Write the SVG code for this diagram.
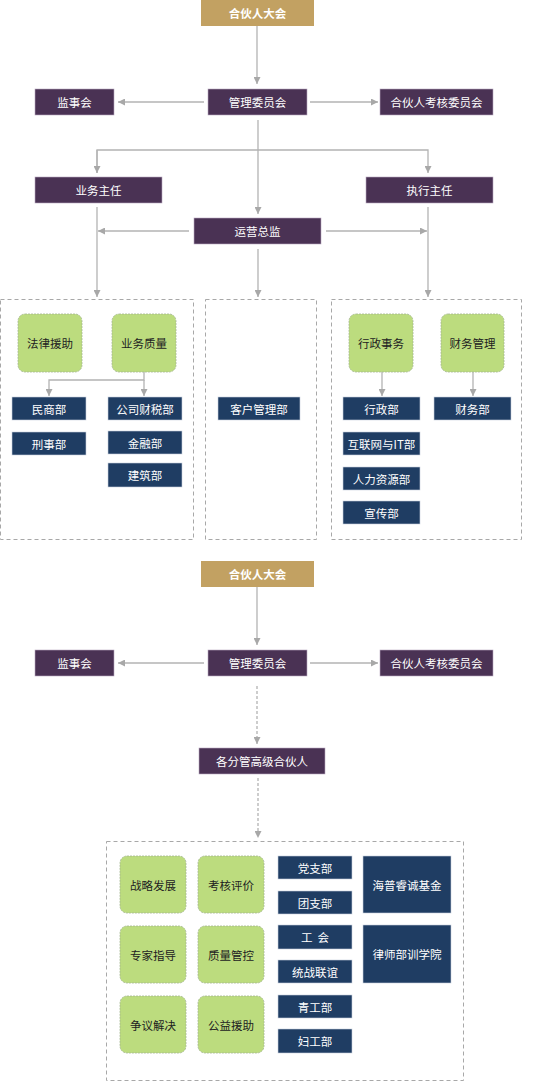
<svg xmlns="http://www.w3.org/2000/svg" width="536" height="1091" viewBox="0 0 536 1091">
<style>
text{font-family:"Noto Sans CJK SC","Microsoft YaHei",sans-serif;font-size:11.5px;text-anchor:middle;dominant-baseline:central}
.gold{fill:#c2a162}
.pur{fill:#4a3254;stroke:#b9a9c0;stroke-width:0.6}
.navy{fill:#1f3d63;stroke:#c8d0dc;stroke-width:0.6}
.grn{fill:#bcdc7e;stroke:#a3b590;stroke-width:0.8;stroke-dasharray:2 1}
.w{fill:#fff}
.b{fill:#222}
.gt{fill:#fff;font-weight:bold}
.dash{fill:none;stroke:#a8a8a8;stroke-width:1;stroke-dasharray:4 3}
.ln{fill:none;stroke:#b3b3b3;stroke-width:1.3}
.dl{fill:none;stroke:#b3b3b3;stroke-width:1.3;stroke-dasharray:3 2}
</style>
<defs>
<marker id="ah" viewBox="0 0 10 10" refX="10" refY="5" markerWidth="7" markerHeight="7" markerUnits="userSpaceOnUse" orient="auto">
<path d="M0,0 L10,5 L0,10 z" fill="#a8a8a8"/>
</marker>
</defs>
<g id="containers">
<rect class="dash" x="0.5" y="299.5" width="193" height="240"/>
<rect class="dash" x="205.5" y="299.5" width="111" height="240"/>
<rect class="dash" x="331.5" y="299.5" width="190" height="240"/>
<rect class="dash" x="106.5" y="841.5" width="357" height="239"/>
</g>
<g id="connectors">
<line class="ln" x1="257" y1="26" x2="257" y2="84" marker-end="url(#ah)"/>
<line class="ln" x1="204" y1="102" x2="118" y2="102" marker-end="url(#ah)"/>
<line class="ln" x1="310" y1="102" x2="378" y2="102" marker-end="url(#ah)"/>
<line class="ln" x1="258" y1="120" x2="258" y2="214" marker-end="url(#ah)"/>
<polyline class="ln" points="97,173 97,150 428,150 428,173" marker-end="url(#ah)"/>
<line class="ln" x1="97" y1="150" x2="97" y2="173" marker-end="url(#ah)"/>
<line class="ln" x1="189" y1="231" x2="98" y2="231" marker-end="url(#ah)"/>
<line class="ln" x1="326" y1="231" x2="427" y2="231" marker-end="url(#ah)"/>
<line class="ln" x1="97" y1="207" x2="97" y2="297" marker-end="url(#ah)"/>
<line class="ln" x1="258" y1="249" x2="258" y2="297" marker-end="url(#ah)"/>
<line class="ln" x1="428" y1="207" x2="428" y2="297" marker-end="url(#ah)"/>
<polyline class="ln" points="144,372 144,380 49,380 49,396" marker-end="url(#ah)"/>
<line class="ln" x1="144" y1="380" x2="144" y2="396" marker-end="url(#ah)"/>
<line class="ln" x1="382" y1="372" x2="382" y2="396" marker-end="url(#ah)"/>
<line class="ln" x1="473" y1="372" x2="473" y2="396" marker-end="url(#ah)"/>
<line class="ln" x1="257" y1="587" x2="257" y2="645" marker-end="url(#ah)"/>
<line class="ln" x1="204" y1="663" x2="118" y2="663" marker-end="url(#ah)"/>
<line class="ln" x1="310" y1="663" x2="378" y2="663" marker-end="url(#ah)"/>
<line class="dl" x1="257" y1="686" x2="257" y2="744" marker-end="url(#ah)"/>
<line class="dl" x1="258" y1="778" x2="258" y2="838" marker-end="url(#ah)"/>
</g>
<g id="n1"><rect class="gold" x="201" y="0" width="113" height="26"/><text class="gt" x="257.5" y="13">合伙人大会</text></g>
<g id="n2"><rect class="pur" x="208" y="89" width="99" height="26"/><text class="w" x="257.5" y="102">管理委员会</text></g>
<g id="n3"><rect class="pur" x="35" y="89" width="79" height="26"/><text class="w" x="74.5" y="102">监事会</text></g>
<g id="n4"><rect class="pur" x="380" y="89" width="113" height="26"/><text class="w" x="436.5" y="102">合伙人考核委员会</text></g>
<g id="n5"><rect class="pur" x="35" y="177" width="127" height="26"/><text class="w" x="98.5" y="190">业务主任</text></g>
<g id="n6"><rect class="pur" x="366" y="177" width="127" height="26"/><text class="w" x="429.5" y="190">执行主任</text></g>
<g id="n7"><rect class="pur" x="194" y="218" width="127" height="26"/><text class="w" x="257.5" y="231">运营总监</text></g>
<g id="n8"><rect class="grn" x="18" y="314" width="64" height="58" rx="7"/><text class="b" x="50" y="343">法律援助</text></g>
<g id="n9"><rect class="grn" x="112" y="314" width="64" height="58" rx="7"/><text class="b" x="144" y="343">业务质量</text></g>
<g id="n10"><rect class="grn" x="349" y="314" width="64" height="58" rx="7"/><text class="b" x="381" y="343">行政事务</text></g>
<g id="n11"><rect class="grn" x="441" y="314" width="63" height="58" rx="7"/><text class="b" x="472.5" y="343">财务管理</text></g>
<g id="n12"><rect class="navy" x="12" y="397" width="74" height="23"/><text class="w" x="49" y="408.5">民商部</text></g>
<g id="n13"><rect class="navy" x="12" y="432" width="74" height="23"/><text class="w" x="49" y="443.5">刑事部</text></g>
<g id="n14"><rect class="navy" x="108" y="397" width="74" height="23"/><text class="w" x="145" y="408.5">公司财税部</text></g>
<g id="n15"><rect class="navy" x="108" y="431" width="74" height="23"/><text class="w" x="145" y="442.5">金融部</text></g>
<g id="n16"><rect class="navy" x="108" y="463" width="74" height="24"/><text class="w" x="145" y="475">建筑部</text></g>
<g id="n17"><rect class="navy" x="218" y="397" width="82" height="23"/><text class="w" x="259" y="408.5">客户管理部</text></g>
<g id="n18"><rect class="navy" x="343" y="397" width="77" height="23"/><text class="w" x="381.5" y="408.5">行政部</text></g>
<g id="n19"><rect class="navy" x="343" y="432" width="77" height="23"/><text class="w" x="381.5" y="443.5">互联网与IT部</text></g>
<g id="n20"><rect class="navy" x="343" y="467" width="77" height="23"/><text class="w" x="381.5" y="478.5">人力资源部</text></g>
<g id="n21"><rect class="navy" x="343" y="501" width="77" height="23"/><text class="w" x="381.5" y="512.5">宣传部</text></g>
<g id="n22"><rect class="navy" x="434" y="397" width="77" height="23"/><text class="w" x="472.5" y="408.5">财务部</text></g>
<g id="n23"><rect class="gold" x="201" y="561" width="113" height="26"/><text class="gt" x="257.5" y="574">合伙人大会</text></g>
<g id="n24"><rect class="pur" x="208" y="650" width="99" height="26"/><text class="w" x="257.5" y="663">管理委员会</text></g>
<g id="n25"><rect class="pur" x="35" y="650" width="79" height="26"/><text class="w" x="74.5" y="663">监事会</text></g>
<g id="n26"><rect class="pur" x="380" y="650" width="113" height="26"/><text class="w" x="436.5" y="663">合伙人考核委员会</text></g>
<g id="n27"><rect class="pur" x="199" y="748" width="126" height="26"/><text class="w" x="262" y="761">各分管高级合伙人</text></g>
<g id="n28"><rect class="grn" x="120" y="856" width="66" height="57" rx="7"/><text class="b" x="153" y="884.5">战略发展</text></g>
<g id="n29"><rect class="grn" x="198" y="856" width="66" height="57" rx="7"/><text class="b" x="231" y="884.5">考核评价</text></g>
<g id="n30"><rect class="grn" x="120" y="926" width="66" height="57" rx="7"/><text class="b" x="153" y="954.5">专家指导</text></g>
<g id="n31"><rect class="grn" x="198" y="926" width="66" height="57" rx="7"/><text class="b" x="231" y="954.5">质量管控</text></g>
<g id="n32"><rect class="grn" x="120" y="996" width="66" height="57" rx="7"/><text class="b" x="153" y="1024.5">争议解决</text></g>
<g id="n33"><rect class="grn" x="198" y="996" width="66" height="57" rx="7"/><text class="b" x="231" y="1024.5">公益援助</text></g>
<g id="n34"><rect class="navy" x="278" y="856" width="74" height="23"/><text class="w" x="315" y="867.5">党支部</text></g>
<g id="n35"><rect class="navy" x="278" y="891" width="74" height="23"/><text class="w" x="315" y="902.5">团支部</text></g>
<g id="n36"><rect class="navy" x="278" y="925" width="74" height="24"/><text class="w" x="315" y="937" xml:space="preserve">工  会</text></g>
<g id="n37"><rect class="navy" x="278" y="960" width="74" height="23"/><text class="w" x="315" y="971.5">统战联谊</text></g>
<g id="n38"><rect class="navy" x="278" y="995" width="74" height="23"/><text class="w" x="315" y="1006.5">青工部</text></g>
<g id="n39"><rect class="navy" x="278" y="1029" width="74" height="24"/><text class="w" x="315" y="1041">妇工部</text></g>
<g id="n40"><rect class="navy" x="363" y="856" width="88" height="57"/><text class="w" x="407" y="884.5">海普睿诚基金</text></g>
<g id="n41"><rect class="navy" x="363" y="925" width="88" height="58"/><text class="w" x="407" y="954">律师部训学院</text></g>
</svg>
